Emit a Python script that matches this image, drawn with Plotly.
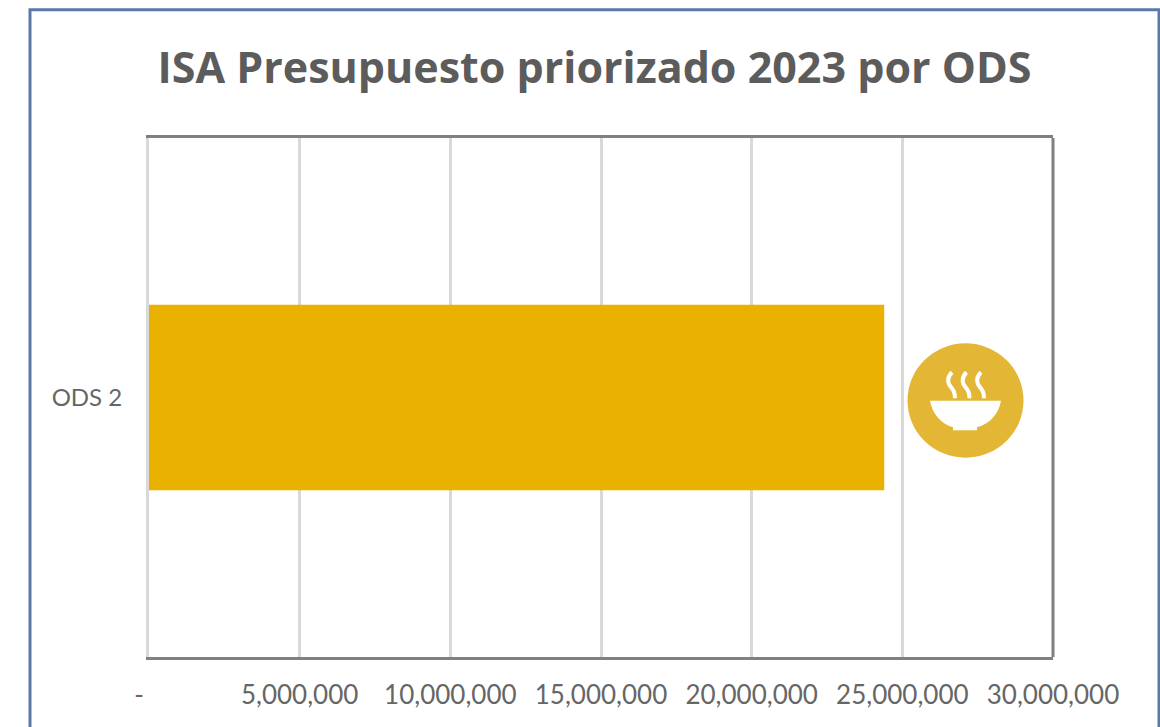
import plotly.graph_objects as go

W, H = 1160, 727
L, R, T, B = 149, 1053, 137.5, 657

title = "ISA Presupuesto priorizado 2023 por ODS"
categories = ["ODS 2"]
values = [24400000]
tick_vals = [0, 5000000, 10000000, 15000000, 20000000, 25000000, 30000000]
tick_text = ["-\u00a0\u00a0\u00a0", "5,000,000", "10,000,000", "15,000,000", "20,000,000", "25,000,000", "30,000,000"]


def px(x):
    return (x - L) / (R - L)


def py(y):
    return (B - y) / (B - T)


def pt(x, y):
    return f"{px(x):.5f},{py(y):.5f}"


fig = go.Figure(
    go.Bar(
        y=categories, x=values, orientation="h", width=0.357,
        marker=dict(color="#E9B200", line_width=0), hoverinfo="skip",
    )
)

shapes = []
# chart frame (clipped by the photographed page)
shapes.append(dict(type="path", xref="paper", yref="paper", layer="below",
                   path=f"M{pt(30, 760)} L{pt(30, 9)} L{pt(1159, 9)} L{pt(1159, 760)}",
                   line=dict(color="#5B78A8", width=3)))
# right plot border
shapes.append(dict(type="line", xref="paper", yref="paper", x0=1, x1=1, y0=0, y1=1,
                   line=dict(color="#808080", width=3)))
# soup icon
shapes.append(dict(type="circle", xref="paper", yref="paper",
                   x0=px(907.5), x1=px(1023.5), y0=py(343), y1=py(457.5),
                   fillcolor="#E3B735", line_width=0))
bowl = (f"M{pt(930, 400.5)} L{pt(1001, 400.5)} C{pt(999, 413)} {pt(990, 424)} {pt(977, 427)} "
        f"L{pt(977, 430)} L{pt(953, 430)} L{pt(953, 427)} C{pt(941, 424)} {pt(932, 413)} {pt(930, 400.5)} Z")
shapes.append(dict(type="path", xref="paper", yref="paper", path=bowl, fillcolor="white", line_width=0))
for dx in (0, 14.5, 29):
    s = (f"M{pt(952 + dx, 372)} C{pt(946 + dx, 378)} {pt(948 + dx, 384)} {pt(951 + dx, 387)} "
         f"C{pt(954 + dx, 390)} {pt(955 + dx, 394)} {pt(955 + dx, 398)}")
    shapes.append(dict(type="path", xref="paper", yref="paper", path=s,
                       line=dict(color="white", width=4)))

fig.update_layout(
    width=W, height=H,
    margin=dict(l=L, r=W - R, t=T, b=H - B, pad=0),
    paper_bgcolor="white", plot_bgcolor="white",
    showlegend=False,
    shapes=shapes,
    title=dict(text=f"<b>{title}</b>", x=(157 + 1032) / 2 / W, xanchor="center",
               y=1 - 68 / H, yanchor="middle",
               font=dict(family="Open Sans", size=43, color="#5C5C5C")),
    xaxis=dict(
        range=[0, 30000000], tickmode="array", tickvals=tick_vals, ticktext=tick_text,
        showgrid=True, gridcolor="#D9D9D9", gridwidth=3,
        zeroline=False, showline=True, linecolor="#808080", linewidth=3, mirror=True,
        ticks="outside", ticklen=13, tickcolor="rgba(0,0,0,0)",
        tickfont=dict(family="Lato", size=26, color="#666666"),
    ),
    yaxis=dict(
        showgrid=False, zeroline=False, showline=True, linecolor="#D9D9D9", linewidth=3,
        ticks="outside", ticklen=19, tickcolor="rgba(0,0,0,0)",
        tickfont=dict(family="Lato", size=24, color="#666666"),
    ),
)

fig.write_html("out.html", post_script="document.body.style.margin='0';",
               config=dict(displayModeBar=False))
